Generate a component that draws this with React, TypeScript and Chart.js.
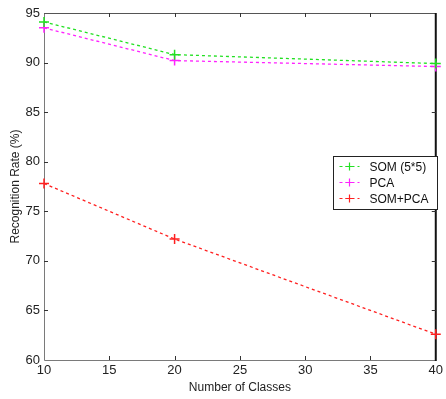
import React, { useEffect, useRef } from "react";
import { Chart, registerables } from "chart.js";

Chart.register(...registerables);

const classes = [10, 20, 40];
const somValues = [94.1, 90.8, 89.9];
const pcaValues = [93.5, 90.2, 89.6];
const somPcaValues = [77.8, 72.2, 62.6];
const seriesLabels = ["SOM (5*5)", "PCA", "SOM+PCA"];
const seriesColors = ["#22e022", "#ff22ff", "#ff2020"];
const xTicks = [10, 15, 20, 25, 30, 35, 40];
const yTicks = [60, 65, 70, 75, 80, 85, 90, 95];

const FONT = "'Liberation Sans', Arial, sans-serif";

const framePlugin = {
  id: "frame",
  beforeDatasetsDraw(chart: any) {
    const { ctx, chartArea } = chart;
    const { left, right, top, bottom } = chartArea;
    const xs = chart.scales.x;
    const ys = chart.scales.y;
    ctx.save();
    ctx.lineWidth = 1;
    ctx.strokeStyle = "#7a7a7a";
    ctx.beginPath();
    ctx.moveTo(left + 0.5, top);
    ctx.lineTo(left + 0.5, bottom + 0.5);
    ctx.lineTo(right, bottom + 0.5);
    ctx.stroke();
    ctx.strokeStyle = "#555";
    ctx.beginPath();
    ctx.moveTo(left, top + 0.5);
    ctx.lineTo(right, top + 0.5);
    ctx.stroke();
    ctx.strokeStyle = "#111";
    ctx.lineWidth = 2;
    ctx.beginPath();
    ctx.moveTo(right, top);
    ctx.lineTo(right, bottom + 1);
    ctx.stroke();
    ctx.lineWidth = 1;
    ctx.strokeStyle = "#333";
    const tl = 4;
    xTicks.slice(1, -1).forEach((v) => {
      const px = Math.round(xs.getPixelForValue(v)) + 0.5;
      ctx.beginPath();
      ctx.moveTo(px, bottom);
      ctx.lineTo(px, bottom - tl);
      ctx.moveTo(px, top);
      ctx.lineTo(px, top + tl);
      ctx.stroke();
    });
    yTicks.slice(1, -1).forEach((v) => {
      const py = Math.round(ys.getPixelForValue(v)) + 0.5;
      ctx.beginPath();
      ctx.moveTo(left, py);
      ctx.lineTo(left + tl, py);
      ctx.moveTo(right, py);
      ctx.lineTo(right - tl, py);
      ctx.stroke();
    });
    ctx.restore();
  },
  afterDraw(chart: any) {
    const { ctx } = chart;
    ctx.save();
    const bx = 333.5, by = 156.5, bw = 104, bh = 53;
    ctx.fillStyle = "#fff";
    ctx.fillRect(bx, by, bw, bh);
    ctx.strokeStyle = "#222";
    ctx.lineWidth = 1;
    ctx.strokeRect(bx, by, bw, bh);
    ctx.font = `12px ${FONT}`;
    ctx.textBaseline = "middle";
    chart.data.datasets.forEach((ds: any, i: number) => {
      const cy = by + 10 + i * 16;
      ctx.strokeStyle = ds.borderColor;
      ctx.lineWidth = 1.2;
      ctx.setLineDash([3, 3]);
      ctx.beginPath();
      ctx.moveTo(bx + 6, cy);
      ctx.lineTo(bx + 26, cy);
      ctx.stroke();
      ctx.setLineDash([]);
      ctx.beginPath();
      ctx.moveTo(bx + 16, cy - 4);
      ctx.lineTo(bx + 16, cy + 4);
      ctx.moveTo(bx + 12, cy);
      ctx.lineTo(bx + 20, cy);
      ctx.stroke();
      ctx.fillStyle = "#111";
      ctx.fillText(ds.label, bx + 36, cy + 1);
    });
    ctx.restore();
  },
};

const bgPlugin = {
  id: "bg",
  beforeDraw(chart: any) {
    const { ctx, width, height } = chart;
    ctx.save();
    ctx.fillStyle = "#fff";
    ctx.fillRect(0, 0, width, height);
    ctx.restore();
  },
};

export default function App() {
  const ref = useRef<HTMLCanvasElement | null>(null);
  useEffect(() => {
    if (!ref.current) return;
    const series = [somValues, pcaValues, somPcaValues];
    const chart = new Chart(ref.current, {
      type: "line",
      data: {
        datasets: series.map((vals, i) => ({
          label: seriesLabels[i],
          data: classes.map((c, j) => ({ x: c, y: vals[j] })),
          borderColor: seriesColors[i],
          backgroundColor: seriesColors[i],
          borderWidth: 1.3,
          borderDash: [3, 3],
          pointStyle: "cross",
          pointRadius: 5,
          pointBorderWidth: 1.5,
          pointBorderColor: seriesColors[i],
          tension: 0,
          fill: false,
          clip: false,
        })),
      },
      options: {
        responsive: false,
        animation: false,
        devicePixelRatio: 1,
        layout: { padding: { top: 13, right: 7, left: 0, bottom: 0 } },
        plugins: { legend: { display: false }, tooltip: { enabled: false } },
        scales: {
          x: {
            type: "linear",
            min: 10,
            max: 40,
            afterBuildTicks: (s: any) => {
              s.ticks = xTicks.map((v) => ({ value: v }));
            },
            afterFit: (s: any) => {
              s.height = 39;
            },
            grid: { display: false, drawTicks: false },
            border: { display: false },
            ticks: { padding: 3, color: "#222", font: { family: FONT, size: 13 } },
            title: {
              display: true,
              text: "Number of Classes",
              color: "#222",
              font: { family: FONT, size: 12 },
              padding: { top: 0, bottom: 4 },
            },
          },
          y: {
            type: "linear",
            min: 60,
            max: 95,
            afterBuildTicks: (s: any) => {
              s.ticks = yTicks.map((v) => ({ value: v }));
            },
            afterFit: (s: any) => {
              s.width = 44;
            },
            grid: { display: false, drawTicks: false },
            border: { display: false },
            ticks: { padding: 4, color: "#222", font: { family: FONT, size: 13 } },
            title: {
              display: true,
              text: "Recognition Rate (%)",
              color: "#222",
              font: { family: FONT, size: 12 },
              padding: { top: 8, bottom: 0 },
            },
          },
        },
      },
      plugins: [bgPlugin, framePlugin],
    });
    return () => chart.destroy();
  }, []);
  return (
    <div style={{ position: "absolute", left: 0, top: 0, width: 446, height: 399 }}>
      <canvas ref={ref} width={446} height={399} style={{ display: "block" }} />
    </div>
  );
}
